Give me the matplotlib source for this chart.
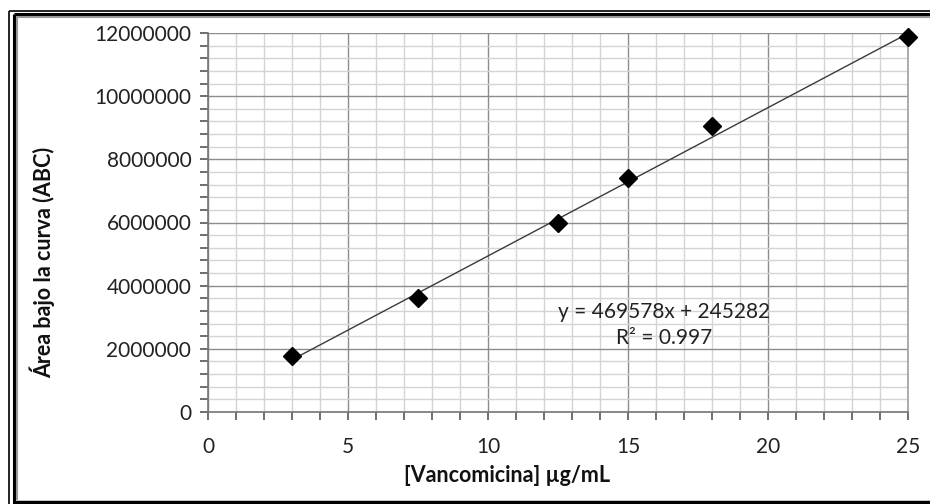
import matplotlib
matplotlib.use("Agg")
import matplotlib.pyplot as plt
from matplotlib.lines import Line2D
from matplotlib.ticker import MultipleLocator, FuncFormatter
import numpy as np

# Data
concentracion = [3, 7.5, 12.5, 15, 18, 25]
area = [1780000, 3600000, 6000000, 7400000, 9050000, 11870000]
pendiente = 469578
intercepto = 245282
r2_texto = "0.997"
xlabel = "[Vancomicina] µg/mL"
ylabel = "Área bajo la curva (ABC)"

W, H = 930, 504
fig = plt.figure(figsize=(W / 100, H / 100), dpi=100)
fig.patch.set_facecolor("white")

font = "Lato"
plt.rcParams["font.family"] = [font, "DejaVu Sans"]

ax = fig.add_axes([208 / W, 1 - 412 / H, 700 / W, 379 / H])
ax.set_xlim(0, 25)
ax.set_ylim(0, 12000000)

ax.xaxis.set_major_locator(MultipleLocator(5))
ax.xaxis.set_minor_locator(MultipleLocator(1))
ax.yaxis.set_major_locator(MultipleLocator(2000000))
ax.yaxis.set_minor_locator(MultipleLocator(400000))
ax.yaxis.set_major_formatter(FuncFormatter(lambda v, p: f"{int(round(v))}"))

ax.grid(which="minor", color="#d4d4d4", linewidth=1.0, zorder=0)
ax.grid(which="major", color="#8c8c8c", linewidth=1.0, zorder=0)
ax.set_axisbelow(True)

ax.spines["top"].set_visible(False)
ax.spines["right"].set_color("#a0a0a0")
ax.spines["left"].set_color("#777777")
ax.spines["bottom"].set_color("#777777")
for s in ["left", "bottom", "right"]:
    ax.spines[s].set_linewidth(1.2)

ax.tick_params(which="both", direction="out", length=6, width=1.2, color="#555555",
               labelsize=15, labelcolor="#222222")
ax.tick_params(axis="x", which="major", pad=12)
ax.tick_params(axis="y", which="major", pad=6)

xs = np.array([min(concentracion), max(concentracion)])
ax.plot(xs, pendiente * xs + intercepto, color="#3a3a3a", linewidth=1.0, zorder=3,
        clip_on=False)
ax.plot(concentracion, area, linestyle="none", marker="D", markersize=9,
        color="black", zorder=4, clip_on=False)

ax.text(16.3, 3170000, f"y = {pendiente}x + {intercepto}", fontsize=15,
        color="#222222", ha="center", va="center")
ax.text(16.3, 2350000, f"R² = {r2_texto}", fontsize=15,
        color="#222222", ha="center", va="center")

fig.text(507 / W, 1 - 476 / H, xlabel, fontsize=15.5, fontweight="bold",
         ha="center", va="center", color="#111111")
fig.text(42 / W, 1 - 262 / H, ylabel, fontsize=15.5, fontweight="bold",
         rotation=90, ha="center", va="center", color="#111111")

# Chart border (double line)
def fline(x0, y0, x1, y1, lw, color):
    fig.add_artist(Line2D([x0 / W, x1 / W], [1 - y0 / H, 1 - y1 / H],
                          transform=fig.transFigure, linewidth=lw, color=color,
                          solid_capstyle="butt"))

fline(8.5, 10.5, 8.5, 504, 1.2, "black")
fline(8.5, 10.5, 930, 10.5, 1.2, "black")
fline(13.5, 14, 13.5, 504, 2.2, "black")
fline(13.5, 14, 930, 14, 2.2, "black")
fline(16.5, 16, 16.5, 500, 1.5, "#999999")
fline(16.5, 16.5, 930, 16.5, 1.5, "#999999")
fline(13, 501.5, 930, 501.5, 2.5, "black")

fig.savefig("out.png", dpi=100, facecolor="white")
